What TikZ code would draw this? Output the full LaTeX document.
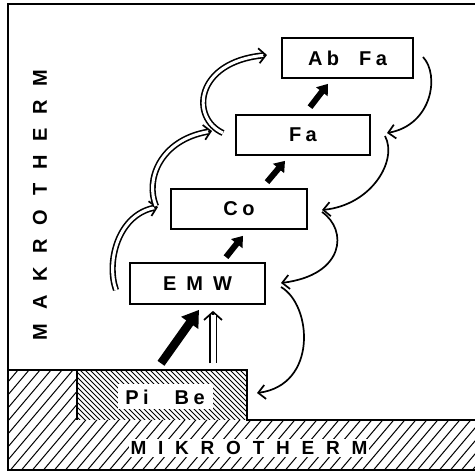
\documentclass[tikz,border=0pt]{standalone}
\usepackage{fontspec}
\usetikzlibrary{arrows.meta,calc}
\newfontfamily\boxfont[LetterSpace=22]{Liberation Sans}
\newfontfamily\sidefont[LetterSpace=69]{Liberation Sans}
\newfontfamily\basefont[LetterSpace=62]{Liberation Sans}

% open double-lined arrow: barb head first, then the double shaft over it
\newcommand\hollowcurve[4]{%
  \draw[barb] #1 .. controls #2 and #3 .. #4;
  \draw[shaft] #1 .. controls #2 and #3 .. #4;}

\begin{document}
\begin{tikzpicture}[x=1pt,y=-1pt,
  box/.style={draw, line width=1.7pt, fill=white, inner sep=0pt,
    minimum height=40pt, font=\boxfont\bfseries\fontsize{20}{22}\selectfont},
  flow/.style={line width=6pt, -{Triangle[length=10pt,width=14pt]}},
  bigflow/.style={line width=8.5pt, -{Triangle[length=16pt,width=20pt]}},
  barb/.style={line width=1.7pt, -{Straight Barb[length=7pt,width=15pt]}},
  shaft/.style={double, line width=1.6pt, double distance=3pt, shorten >=4pt},
  back/.style={line width=1.7pt, -{Straight Barb[length=7pt,width=14pt]}},
  hatch/.style={line width=1pt},
  finehatch/.style={line width=0.75pt},
  edge/.style={line width=1.8pt}
]
\useasboundingbox (0,0) rectangle (475,473);

% hatched ground: low band plus raised block on the left
\begin{scope}
  \clip (8,420) rectangle (475,470) (8,370) rectangle (77,420);
  \foreach \i in {-130,-119,...,480} \draw[hatch] (\i,480) -- ++(110,-130);
\end{scope}
% densely hatched base block
\begin{scope}
  \clip (77,370) rectangle (247,420);
  \foreach \i in {10,15,...,260} \draw[finehatch] (\i,360) -- ++(70,70);
\end{scope}
\node[fill=white, inner sep=0pt, minimum width=95pt, minimum height=25pt,
  font=\boxfont\bfseries\fontsize{20}{22}\selectfont] (pibe) at (165,397) {Pi\hspace{26pt}Be};

% outlines of ground and frame
\draw[edge] (8,370) -- (247,370) -- (247,420) -- (475,420);
\draw[edge] (77,370) -- (77,420);
\draw[line width=2pt] (475,4) -- (8,4) -- (8,470) -- (475,470);

% side labels
\node[fill=white, inner sep=2pt, font=\basefont\bfseries\fontsize{19}{21}\selectfont]
  (mikro) at (249,448) {MIKROTHERM};
\node[rotate=90, font=\sidefont\bfseries\fontsize{20}{22}\selectfont]
  (makro) at (40,205) {MAKROTHERM};

% level boxes
\node[box, minimum width=131pt] (abfa) at (347.5,58) {Ab\hspace{20pt}Fa};
\node[box, minimum width=134pt] (fa) at (303,135) {Fa};
\node[box, minimum width=136pt] (co) at (239,209) {Co};
\node[box, minimum width=135pt, minimum height=41pt] (emw) at (197.5,283.5) {E M W};

% upward black arrows
\draw[bigflow] ($(pibe.north)+(-4,-21)$) -- ($(emw.south)+(1.5,5)$);
\draw[flow] ($(emw.north)+(28.5,-5)$) -- ($(co.south)+(4,6)$);
\draw[flow] ($(co.north)+(28,-6)$) -- ($(fa.south)+(-18,5)$);
\draw[flow] ($(fa.north)+(7,-7)$) -- ($(abfa.south)+(-19.5,5)$);

% upward open arrow
\coordinate (w0) at ($(pibe.north)+(48,-21)$);
\coordinate (w1) at ($(emw.south)+(15.5,6)$);
\draw[line width=1.7pt, -{Straight Barb[length=8pt,width=18pt]}] (w0) -- (w1);
\draw[double, line width=1.6pt, double distance=5pt, shorten >=4pt] (w0) -- (w1);

% hollow curved arrows on the left
\coordinate (a0) at (116,290);
\coordinate (a1) at (158,207);
\coordinate (b0) at (156,206);
\coordinate (b1) at (212,131);
\coordinate (c0) at (223,133);
\coordinate (c1) at (267,55);
\hollowcurve{(a0)}{(106,262)}{(118,215)}{(a1)}
\hollowcurve{(b0)}{(145,180)}{(160,140)}{(b1)}
\hollowcurve{(c0)}{(190,118)}{(195,62)}{(c1)}

% thin curved return arrows on the right
\coordinate (d0) at (423,57);
\coordinate (d1) at (387,133);
\coordinate (e0) at (385,136);
\coordinate (e1) at (322,210);
\coordinate (f0) at (322,212);
\coordinate (f1) at (281,283);
\coordinate (g0) at (281,287);
\coordinate (g1) at (257,393);
\draw[back] (d0) .. controls (440,75) and (432,125) .. (d1);
\draw[back] (e0) .. controls (398,160) and (372,205) .. (e1);
\draw[back] (f0) .. controls (348,230) and (345,275) .. (f1);
\draw[back] (g0) .. controls (312,305) and (318,385) .. (g1);
\end{tikzpicture}
\end{document}
